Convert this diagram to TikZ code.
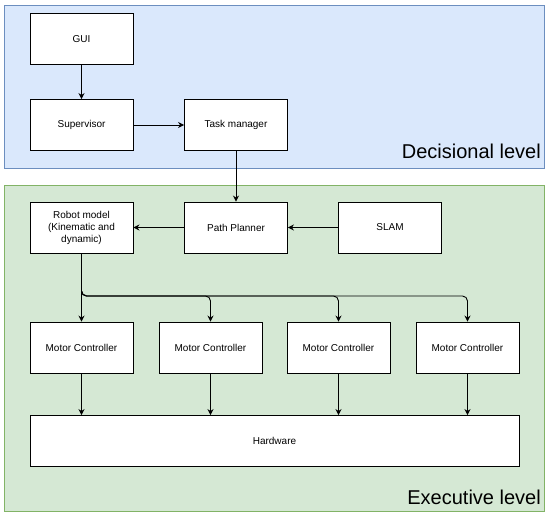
\documentclass[tikz,border=0pt]{standalone}
\usepackage{fontspec}
\setmainfont{Liberation Sans}
\usetikzlibrary{arrows.meta}
\definecolor{bluefill}{HTML}{DAE8FC}
\definecolor{bluedraw}{HTML}{6C8EBF}
\definecolor{greenfill}{HTML}{D5E8D4}
\definecolor{greendraw}{HTML}{82B366}
\begin{document}
\begin{tikzpicture}[x=1pt,y=-1pt,
  box/.style={draw=black, fill=white, line width=0.9pt, minimum width=103pt, minimum height=51pt,
    align=center, inner sep=2pt, font=\fontsize{10}{12}\selectfont},
  arr/.style={draw=black, line width=0.9pt, -{Stealth[length=6pt,width=6pt]}},
  panellabel/.style={font=\fontsize{20}{24}\selectfont, anchor=base east, inner sep=0pt}]
\useasboundingbox (0,0) rectangle (550,516);
% panels
\draw[fill=bluefill, draw=bluedraw, line width=0.9pt] (4,5) rectangle (544,168);
\draw[fill=greenfill, draw=greendraw, line width=0.9pt] (4,185) rectangle (544,511);
\node[panellabel] (dec) at (541,159) {Decisional level};
\node[panellabel] (exe) at (541,504) {Executive level};
% nodes
\node[box] (gui) at (81.5,39) {GUI};
\node[box] (sup) at (81.5,125) {Supervisor};
\node[box] (task) at (236,125) {Task manager};
\node[box] (path) at (236,227.5) {Path Planner};
\node[box] (robot) at (81.5,227.5) {Robot model\\(Kinematic and\\dynamic)};
\node[box] (slam) at (390,227.5) {SLAM};
\node[box] (mc1) at (81.5,347.5) {Motor Controller};
\node[box] (mc2) at (210.5,347.5) {Motor Controller};
\node[box] (mc3) at (338.5,347.5) {Motor Controller};
\node[box] (mc4) at (467.5,347.5) {Motor Controller};
\node[box, minimum width=489pt] (hw) at (274.5,441) {Hardware};
\coordinate (bus) at (0,296);
% edges
\draw[arr] (gui.south) -- (sup.north);
\draw[arr] (sup.east) -- (task.west);
\draw[arr] (task.south) -- (path.north);
\draw[arr] (path.west) -- (robot.east);
\draw[arr] (slam.west) -- (path.east);
\draw[arr] (robot.south) -- (mc1.north);
\draw[arr, rounded corners=5pt] (robot.south) -- (robot.south |- bus) -| (mc2.north);
\draw[arr, rounded corners=5pt] (robot.south) -- (robot.south |- bus) -| (mc3.north);
\draw[arr, rounded corners=5pt] (robot.south) -- (robot.south |- bus) -| (mc4.north);
\draw[arr] (mc1.south) -- (mc1.south |- hw.north);
\draw[arr] (mc2.south) -- (mc2.south |- hw.north);
\draw[arr] (mc3.south) -- (mc3.south |- hw.north);
\draw[arr] (mc4.south) -- (mc4.south |- hw.north);
\end{tikzpicture}
\end{document}
